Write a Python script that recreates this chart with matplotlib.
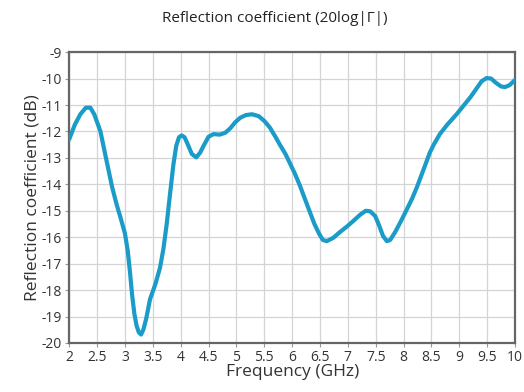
import matplotlib
matplotlib.use('Agg')
import matplotlib.pyplot as plt

# values
freq_ghz = [2.0, 2.1, 2.2, 2.3, 2.38, 2.45, 2.56, 2.67, 2.77, 2.85, 2.92, 3.0, 3.05,
            3.09, 3.13, 3.17, 3.21, 3.25, 3.29, 3.33, 3.38, 3.45, 3.55, 3.63, 3.69,
            3.75, 3.81, 3.87, 3.92, 3.97, 4.02, 4.07, 4.13, 4.2, 4.28, 4.35, 4.41,
            4.5, 4.59, 4.7, 4.8, 4.89, 4.98, 5.07, 5.17, 5.28, 5.4, 5.5, 5.6, 5.7,
            5.78, 5.88, 5.96, 6.05, 6.14, 6.22, 6.31, 6.4, 6.48, 6.55, 6.62, 6.74,
            6.86, 6.98, 7.1, 7.22, 7.32, 7.4, 7.49, 7.56, 7.63, 7.7, 7.76, 7.85,
            7.95, 8.05, 8.15, 8.24, 8.32, 8.4, 8.47, 8.54, 8.65, 8.78, 8.95, 9.1,
            9.2, 9.3, 9.4, 9.49, 9.57, 9.65, 9.75, 9.82, 9.9, 10.0]
refl_db = [-12.3, -11.75, -11.35, -11.1, -11.1, -11.35, -11.99, -13.1, -14.1, -14.75,
           -15.25, -15.85, -16.5, -17.3, -18.2, -18.9, -19.35, -19.6, -19.68, -19.5,
           -19.1, -18.35, -17.75, -17.15, -16.45, -15.5, -14.35, -13.25, -12.55, -12.22,
           -12.15, -12.22, -12.5, -12.85, -12.98, -12.8, -12.55, -12.2, -12.1, -12.12,
           -12.05, -11.88, -11.65, -11.48, -11.38, -11.35, -11.42, -11.6, -11.85, -12.2,
           -12.5, -12.85, -13.2, -13.6, -14.05, -14.5, -15.0, -15.5, -15.85, -16.1,
           -16.15, -16.02, -15.8, -15.6, -15.38, -15.15, -15.0, -15.02, -15.2, -15.55,
           -15.95, -16.15, -16.1, -15.8, -15.4, -14.98, -14.55, -14.1, -13.65, -13.2,
           -12.8, -12.5, -12.1, -11.75, -11.35, -10.96, -10.7, -10.4, -10.1, -9.98,
           -10.0, -10.15, -10.3, -10.32, -10.25, -10.05]

x_ticks = [2, 2.5, 3, 3.5, 4, 4.5, 5, 5.5, 6, 6.5, 7, 7.5, 8, 8.5, 9, 9.5, 10]
x_tick_labels = ['2', '2.5', '3', '3.5', '4', '4.5', '5', '5.5', '6', '6.5', '7', '7.5',
                 '8', '8.5', '9', '9.5', '10']
y_ticks = list(range(-20, -8))

plt.rcParams['font.family'] = ['Open Sans', 'DejaVu Sans']

fig = plt.figure(figsize=(5.24, 3.92), dpi=100)
ax = fig.add_axes([0.132, 0.125, 0.851, 0.742])

ax.plot(freq_ghz, refl_db, color='#1a9bc8', linewidth=3, solid_capstyle='round',
        solid_joinstyle='round', zorder=3)

ax.set_xlim(2, 10)
ax.set_ylim(-20, -9)
ax.set_xticks(x_ticks)
ax.set_xticklabels(x_tick_labels)
ax.set_yticks(y_ticks)
ax.set_yticklabels([str(v) for v in y_ticks])
ax.grid(True, color='#d4d4d4', linewidth=0.9)
ax.set_axisbelow(True)

for side in ['left', 'bottom', 'top', 'right']:
    ax.spines[side].set_color('#666666')
    ax.spines[side].set_linewidth(1.6)

ax.tick_params(axis='both', length=3, width=0.8, color='#999999', labelsize=10,
               labelcolor='#333333', pad=2)

# title sits a bit left of the axes centre in the reference
fig.text(0.525, 0.953, 'Reflection coefficient (20log|Γ|)', fontsize=11,
         color='#222222', ha='center', va='center')
ax.set_xlabel('Frequency (GHz)', fontsize=12.5, color='#333333', labelpad=-1)
ax.set_ylabel('Reflection coefficient (dB)', fontsize=12.5, color='#333333', labelpad=1)

fig.savefig('out.png', dpi=100, facecolor='white')
